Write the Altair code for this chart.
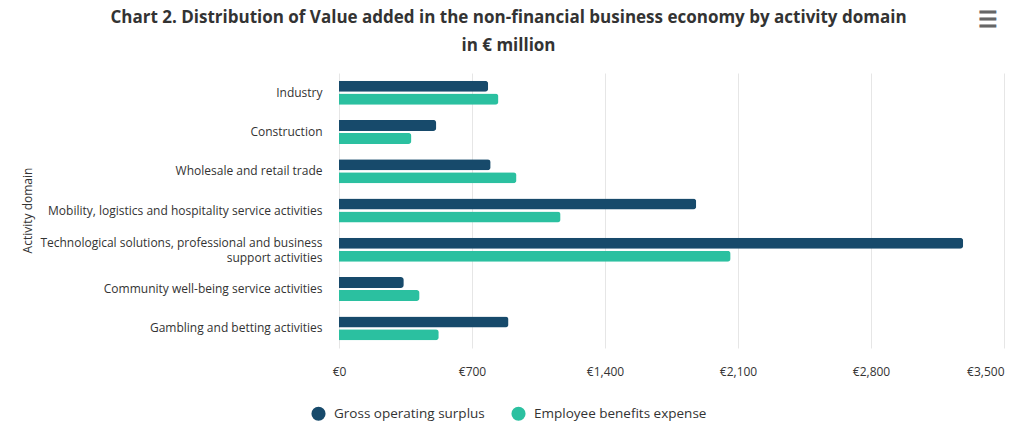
import altair as alt
import pandas as pd

categories = [
    "Industry",
    "Construction",
    "Wholesale and retail trade",
    "Mobility, logistics and hospitality service activities",
    "Technological solutions, professional and business support activities",
    "Community well-being service activities",
    "Gambling and betting activities",
]
series = ["Gross operating surplus", "Employee benefits expense"]
gross_operating_surplus = [785, 512, 798, 1880, 3285, 341, 892]
employee_benefits_expense = [839, 381, 934, 1166, 2061, 424, 525]
x_ticks = [0, 700, 1400, 2100, 2800, 3500]
colors = ["#174a6b", "#2bc0a0"]

rows = []
for i, c in enumerate(categories):
    rows.append({"domain": c, "series": series[0], "value": gross_operating_surplus[i]})
    rows.append({"domain": c, "series": series[1], "value": employee_benefits_expense[i]})
df = pd.DataFrame(rows)

FONT = "Open Sans"
TXT = "#333333"
LONG = "Technological solutions, professional and business support activities"

label_expr = (
    f"datum.label == '{LONG}' "
    "? ['Technological solutions, professional and business', 'support activities'] : datum.label"
)

bars = alt.Chart(df).mark_bar(cornerRadiusEnd=3).encode(
    x=alt.X(
        "value:Q",
        scale=alt.Scale(domain=[0, 3500], nice=False),
        axis=alt.Axis(
            values=x_ticks,
            title=None,
            labelExpr="'€' + format(datum.value, ',')",
            labelAlign=alt.ExprRef("datum.value == 3500 ? 'right' : 'center'"),
            labelFontSize=12,
            labelColor=TXT,
            labelFont=FONT,
            labelPadding=18,
            domain=False,
            ticks=False,
            grid=True,
            gridColor="#e6e6e6",
        ),
    ),
    y=alt.Y(
        "domain:N",
        sort=categories,
        scale=alt.Scale(paddingInner=0.39, paddingOuter=0.195),
        axis=alt.Axis(
            title="Activity domain",
            titleFont=FONT,
            titleFontSize=12,
            titleFontWeight="normal",
            titleColor=TXT,
            titleAngle=-90,
            titleX=-312,
            titleY=137,
            titleAlign="center",
            titleBaseline="middle",
            labelExpr=label_expr,
            labelFont=FONT,
            labelFontSize=12,
            labelColor=TXT,
            labelPadding=17,
            labelLimit=400,
            labelLineHeight=15,
            labelOffset=alt.ExprRef(f"datum.value == '{LONG}' ? -7 : 0"),
            domain=False,
            ticks=False,
            grid=False,
        ),
    ),
    yOffset=alt.YOffset("series:N", sort=series, scale=alt.Scale(paddingInner=0.15)),
    color=alt.Color(
        "series:N",
        sort=series,
        scale=alt.Scale(domain=series, range=colors),
        legend=alt.Legend(
            title=None,
            orient="none",
            direction="horizontal",
            legendX=-28,
            legendY=333,
            symbolType="circle",
            symbolSize=200,
            symbolStrokeWidth=0,
            labelFont=FONT,
            labelFontSize=13.5,
            labelColor=TXT,
            labelOffset=8,
            labelLimit=300,
            columnPadding=26,
        ),
    ),
)

menu = alt.Chart(pd.DataFrame({"t": ["☰"]})).mark_text(
    fontSize=22, fontWeight="bold", color="#666666", align="center", baseline="middle"
).encode(text="t:N", x=alt.value(649), y=alt.value(-53))

chart = alt.layer(bars, menu).properties(
    width=665,
    height=275,
    autosize=alt.AutoSizeParams(type="none"),
    padding={"left": 331, "top": 65, "right": 4, "bottom": 89},
    background="white",
    title=alt.Title(
        text=[
            "Chart 2. Distribution of Value added in the non-financial business economy by activity domain",
            "in € million",
        ],
        font=FONT,
        fontSize=17,
        fontWeight="bold",
        color=TXT,
        anchor="middle",
        frame="group",
        dx=-163,
        offset=-46,
        lineHeight=28,
    ),
).configure_view(stroke=None)

chart.save("out.html", embed_options={"renderer": "svg", "actions": False})
